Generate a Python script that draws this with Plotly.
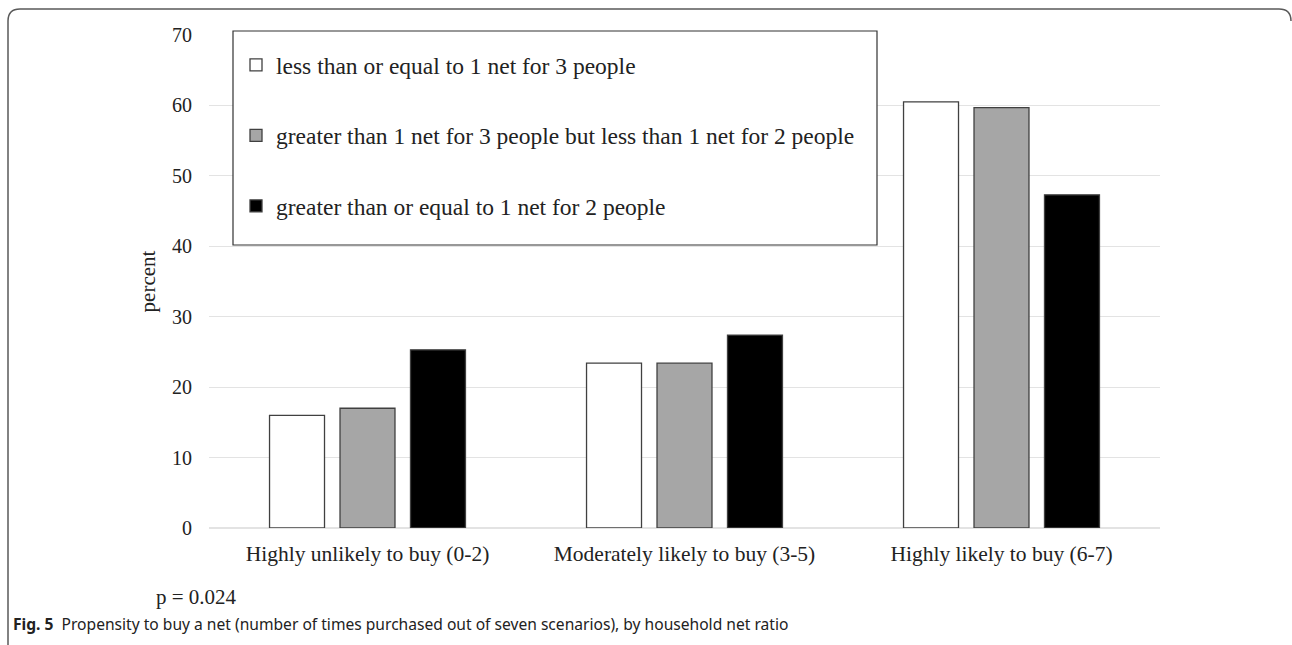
import plotly.graph_objects as go

categories = ["Highly unlikely to buy (0-2)", "Moderately likely to buy (3-5)", "Highly likely to buy (6-7)"]
series_names = [
    "less than or equal to 1 net for 3 people",
    "greater than 1 net for 3 people but less than 1 net for 2 people",
    "greater than or equal to 1 net for 2 people",
]
low_ratio = [16.0, 23.4, 60.5]
mid_ratio = [17.0, 23.4, 59.7]
high_ratio = [25.3, 27.4, 47.3]
series_values = [low_ratio, mid_ratio, high_ratio]
series_colors = ["#ffffff", "#a6a6a6", "#000000"]
y_ticks = [0, 10, 20, 30, 40, 50, 60, 70]

W, H = 1292, 645
L, R, T, B = 209, 1160, 35, 528  # plot area in pixels

def px(x):
    return (x - L) / (R - L)

def py(y):
    return (B - y) / (B - T)

serif = "Liberation Serif, Times New Roman, serif"

fig = go.Figure()
for i, (name, vals, col) in enumerate(zip(series_names, series_values, series_colors)):
    fig.add_trace(go.Bar(
        x=categories, y=vals, name=name, legendgroup=f"g{i}",
        marker=dict(color=col, line=dict(color="#404040", width=1.3)),
    ))

# frame with rounded corners
r = 12
fx0, fy0, fx1, fy1 = 8, 9, 1291, 646
frame_path = (
    f"M {px(fx0)},{py(fy1)} L {px(fx0)},{py(fy0 + r)} "
    f"Q {px(fx0)},{py(fy0)} {px(fx0 + r)},{py(fy0)} "
    f"L {px(fx1 - r)},{py(fy0)} Q {px(fx1)},{py(fy0)} {px(fx1)},{py(fy0 + r)}"
)

shapes = [
    dict(type="path", xref="paper", yref="paper", path=frame_path,
         line=dict(color="#5a5a5a", width=1.5), layer="above"),
    dict(type="rect", xref="paper", yref="paper",
         x0=px(233), x1=px(877), y0=py(245), y1=py(31),
         line=dict(color="#333333", width=1.2), fillcolor="white", layer="above"),
]

annotations = [
    dict(text="p = 0.024", xref="paper", yref="paper", x=px(154), y=py(597),
         xanchor="left", yanchor="middle", showarrow=False,
         font=dict(family=serif, size=21, color="#222")),
    dict(text="<b>Fig. 5</b>  Propensity to buy a net (number of times purchased out of seven scenarios), by household net ratio",
         xref="paper", yref="paper", x=px(11), y=py(624),
         xanchor="left", yanchor="middle", showarrow=False,
         font=dict(family="Noto Sans, sans-serif", size=15.6, color="#222")),
]

fig.update_layout(
    width=W, height=H,
    margin=dict(l=L, r=W - R, t=T, b=H - B, autoexpand=False),
    paper_bgcolor="white", plot_bgcolor="white",
    barmode="group", bargap=0.333, bargroupgap=0.22,
    font=dict(family=serif, size=21, color="#222"),
    showlegend=True,
    legend=dict(x=px(236), y=py(43), xanchor="left", yanchor="top",
                bgcolor="rgba(0,0,0,0)", borderwidth=0,
                tracegroupgap=37, font=dict(family=serif, size=23.5, color="#222"),
                itemclick=False, itemdoubleclick=False),
    xaxis=dict(showgrid=False, showline=False, ticks="", tickfont=dict(size=21.5),
               ticklabelstandoff=10),
    yaxis=dict(range=[0, 70], tickvals=y_ticks, showgrid=True, gridcolor="#e3e3e3",
               gridwidth=1.2, zeroline=True, zerolinecolor="#e3e3e3", zerolinewidth=1.5,
               showline=False, ticks="", tickfont=dict(size=20), ticklabelstandoff=16,
               title=dict(text="percent", font=dict(size=21), standoff=10)),
    shapes=shapes, annotations=annotations,
)

fig.write_html("out.html")
